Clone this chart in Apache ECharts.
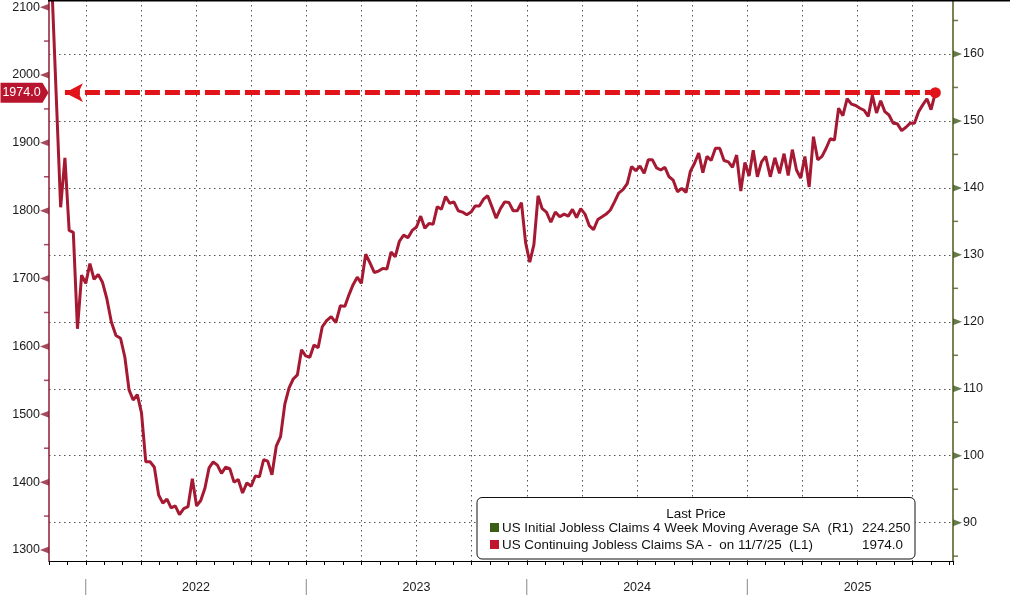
<!DOCTYPE html>
<html><head><meta charset="utf-8">
<script src="https://cdn.jsdelivr.net/npm/echarts@6/dist/echarts.min.js"></script>
<style>html,body{margin:0;padding:0;background:#fff}#c{width:1010px;height:595px}</style>
</head><body><div id="c"></div>
<script>
// ---------- data ----------
const startDate = '2021-11-06';           // first weekly observation
const continuingClaims = [
  2125,1965,1805,1878,1771,1768,1626,1705,1693,1722,
  1699,1706,1695,1671,1636,1616,1612,1584,1536,1521,
  1529,1502,1430,1430,1422,1381,1369,1375,1362,1365,
  1352,1361,1364,1405,1365,1373,1391,1421,1430,1425,
  1413,1422,1420,1400,1404,1384,1399,1394,1409,1408,
  1433,1431,1411,1453,1467,1515,1539,1552,1558,1595,
  1586,1584,1602,1598,1629,1638,1644,1635,1660,1659,
  1676,1691,1702,1693,1736,1723,1709,1711,1715,1714,
  1739,1732,1755,1764,1760,1771,1776,1792,1774,1781,
  1780,1806,1802,1821,1811,1813,1800,1798,1794,1798,
  1807,1807,1817,1822,1806,1789,1803,1813,1812,1800,
  1800,1812,1753,1724,1750,1822,1803,1798,1783,1798,
  1791,1795,1792,1802,1790,1803,1795,1778,1772,1787,
  1791,1795,1801,1813,1826,1831,1840,1865,1859,1866,
  1855,1875,1875,1863,1860,1864,1850,1845,1828,1833,
  1827,1858,1870,1885,1856,1880,1874,1892,1892,1874,
  1872,1864,1882,1829,1871,1851,1889,1850,1872,1880,
  1850,1878,1855,1884,1852,1890,1860,1848,1880,1835,
  1909,1875,1880,1892,1906,1904,1951,1940,1965,1957,
  1955,1951,1948,1939,1970,1944,1962,1946,1941,1929,
  1928,1918,1923,1929,1929,1946,1956,1965,1949,1974
];
const leftMajorTicks = [1300,1400,1500,1600,1700,1800,1900,2000,2100];
const leftMinorTicks = [1350,1450,1550,1650,1750,1850,1950,2050];
const rightMajorTicks = [90,100,110,120,130,140,150,160];
const rightMinorTicks = [85,95,105,115,125,135,145,155,165];
const yearStarts = ['2022-01-01','2023-01-01','2024-01-01','2025-01-01'];
const xStart = '2021-11-01';
const xEnd = '2025-12-07';
const arrowDate = '2021-11-27';
const leftRange = [1283.8, 2110.5];
const rightRange = [84.28, 168.06];
const legendTitle = 'Last Price';
const initialLabel = 'US Initial Jobless Claims 4 Week Moving Average SA  (R1)';
const initialLast = '224.250';
const continuingLabel = 'US Continuing Jobless Claims SA -  on 11/7/25  (L1)';

// ---------- helpers ----------
function parseD(s){const p=s.split('-').map(Number);return {y:p[0],m:p[1],d:p[2]};}
function toM(s){const o=parseD(s);const dim=new Date(Date.UTC(o.y,o.m,0)).getUTCDate();return (o.y-2000)*12+(o.m-1)+(o.d-1)/dim;}
function addDays(s,n){const o=parseD(s);return new Date(Date.UTC(o.y,o.m-1,o.d+n)).toISOString().slice(0,10);}
const weekDates = continuingClaims.map((_,i)=>addDays(startDate,7*i));
const lineData = weekDates.map((d,i)=>[toM(d),continuingClaims[i]]);
const M0 = toM(xStart), M1 = toM(xEnd);
const lastValue = continuingClaims[continuingClaims.length-1];
const lastX = lineData[lineData.length-1][0];

const FONT = '"Liberation Sans",Arial,sans-serif';
const AX = 12.5, LG = 13.4;
const LINE = '#a51932', RED = '#e1141a', LEFTC = '#8e1c33', RIGHTC = '#4f5a1e', RIGHTT = '#3f5a1c';
const gridLine = {color:'#555', width:1, type:[1.5,3.5]};

const chart = echarts.init(document.getElementById('c'));
chart.setOption({
  animation:false,
  textStyle:{fontFamily:FONT},
  grid:{left:49, right:57, top:0, bottom:34},
  xAxis:[
    {type:'value', min:M0, max:M1, interval:1,
     axisLine:{show:true, lineStyle:{color:'#000', width:1}},
     axisTick:{show:true, length:4, lineStyle:{color:'#000'}},
     axisLabel:{margin:20, fontSize:AX, fontFamily:FONT, color:'#1a1a1a',
       formatter:v=>{const r=Math.round(v);return (Math.abs(v-r)<1e-6 && ((r%12)+12)%12===6)?String(2000+Math.floor(r/12)):'';}},
     splitLine:{show:false}},
    {type:'value', min:M0, max:M1, minInterval:3, maxInterval:3, splitNumber:16, position:'bottom',
     axisLine:{show:false}, axisTick:{show:false}, axisLabel:{show:false},
     splitLine:{show:true, showMinLine:false, showMaxLine:false, lineStyle:gridLine}}
  ],
  yAxis:[
    {type:'value', position:'left', min:leftRange[0], max:leftRange[1], minInterval:100, maxInterval:100, splitNumber:8,
     axisLine:{show:true, lineStyle:{color:LEFTC, width:1.5}}, axisTick:{show:false},
     axisLabel:{showMinLabel:false, showMaxLabel:false, margin:9, color:'#1a1a1a', fontSize:AX, fontFamily:FONT,
       formatter:v=>String(Math.round(v))},
     splitLine:{show:false}},
    {type:'value', position:'right', min:rightRange[0], max:rightRange[1], minInterval:10, maxInterval:10, splitNumber:8,
     axisLine:{show:true, lineStyle:{color:RIGHTC, width:1.5}}, axisTick:{show:false},
     axisLabel:{showMinLabel:false, showMaxLabel:false, margin:10, color:'#1a1a1a', fontSize:AX, fontFamily:FONT,
       formatter:v=>String(Math.round(v))},
     splitLine:{show:true, showMinLine:false, showMaxLine:false, lineStyle:gridLine}}
  ],
  series:[
    {type:'line', name:'US Continuing Jobless Claims SA', xAxisIndex:0, yAxisIndex:0, data:lineData,
     showSymbol:false, symbol:'none', clip:true, z:3,
     lineStyle:{color:LINE, width:3}, itemStyle:{color:LINE},
     markLine:{silent:true, label:{show:false},
       lineStyle:{color:RED, width:5, type:[15,5]}, itemStyle:{color:RED},
       emphasis:{disabled:true},
       data:[[{coord:[toM(arrowDate), lastValue], symbol:'arrow', symbolSize:[14,18]},
              {coord:[lastX, lastValue], symbol:'circle', symbolSize:11}]]},
     markPoint:{silent:true, symbol:'path://M0,0 L42,0 L48,10 L42,20 L0,20 Z', symbolSize:[48,20], symbolOffset:[-24.5,0],
       itemStyle:{color:'#b9142d'},
       label:{show:true, color:'#fff', fontSize:AX, fontFamily:FONT, offset:[-3,0], formatter:p=>Number(p.value).toFixed(1)},
       data:[{coord:[M0, lastValue], value:lastValue}]}
    },
    {type:'scatter', xAxisIndex:0, yAxisIndex:0, silent:true, clip:false, z:5,
     data:leftMajorTicks.map(v=>[M0,v]), symbol:'triangle', symbolSize:[7,9], symbolRotate:90, symbolOffset:[-4.5,0],
     itemStyle:{color:LEFTC}},
    {type:'scatter', xAxisIndex:0, yAxisIndex:0, silent:true, clip:false, z:5,
     data:leftMinorTicks.map(v=>[M0,v]), symbol:'rect', symbolSize:[5,1.5], symbolOffset:[-2.5,0],
     itemStyle:{color:LEFTC}},
    {type:'scatter', xAxisIndex:0, yAxisIndex:1, silent:true, clip:false, z:5,
     data:rightMajorTicks.map(v=>[M1,v]), symbol:'triangle', symbolSize:[7,9], symbolRotate:-90, symbolOffset:[4.5,0],
     itemStyle:{color:RIGHTT}},
    {type:'scatter', xAxisIndex:0, yAxisIndex:1, silent:true, clip:false, z:5,
     data:rightMinorTicks.map(v=>[M1,v]), symbol:'rect', symbolSize:[5,1.5], symbolOffset:[2.5,0],
     itemStyle:{color:RIGHTC}},
    {type:'custom', xAxisIndex:0, yAxisIndex:0, silent:true, clip:false, z:5,
     data:yearStarts.map(d=>[toM(d), leftRange[0]]),
     renderItem:(params,api)=>{const p=api.coord([api.value(0),api.value(1)]);
       return {type:'line', shape:{x1:p[0],y1:p[1]+18,x2:p[0],y2:p[1]+34}, style:{stroke:'#888', lineWidth:1}};}}
  ],
  graphic:[
    {type:'rect', shape:{x:48,y:0,width:962,height:1.5}, style:{fill:'#000'}, z:50, silent:true},
    {type:'rect', shape:{x:477,y:497.5,width:438,height:61.5,r:5}, style:{fill:'#fff', stroke:'#111', lineWidth:1}, z:100, silent:true},
    {type:'text', x:696, y:514, z:101, silent:true, style:{text:legendTitle, fontSize:LG, fontFamily:FONT, fill:'#111', align:'center', verticalAlign:'middle'}},
    {type:'rect', shape:{x:490,y:523,width:9,height:9}, style:{fill:'#3b5e17'}, z:101, silent:true},
    {type:'text', x:502, y:528, z:101, silent:true, style:{text:initialLabel, fontSize:LG, fontFamily:FONT, fill:'#111', align:'left', verticalAlign:'middle'}},
    {type:'text', x:862, y:528, z:101, silent:true, style:{text:initialLast, fontSize:LG, fontFamily:FONT, fill:'#111', align:'left', verticalAlign:'middle'}},
    {type:'rect', shape:{x:490,y:540,width:9,height:9}, style:{fill:'#c0142f'}, z:101, silent:true},
    {type:'text', x:502, y:545.5, z:101, silent:true, style:{text:continuingLabel, fontSize:LG, fontFamily:FONT, fill:'#111', align:'left', verticalAlign:'middle'}},
    {type:'text', x:862, y:545.5, z:101, silent:true, style:{text:lastValue.toFixed(1), fontSize:LG, fontFamily:FONT, fill:'#111', align:'left', verticalAlign:'middle'}}
  ]
});
</script></body></html>
